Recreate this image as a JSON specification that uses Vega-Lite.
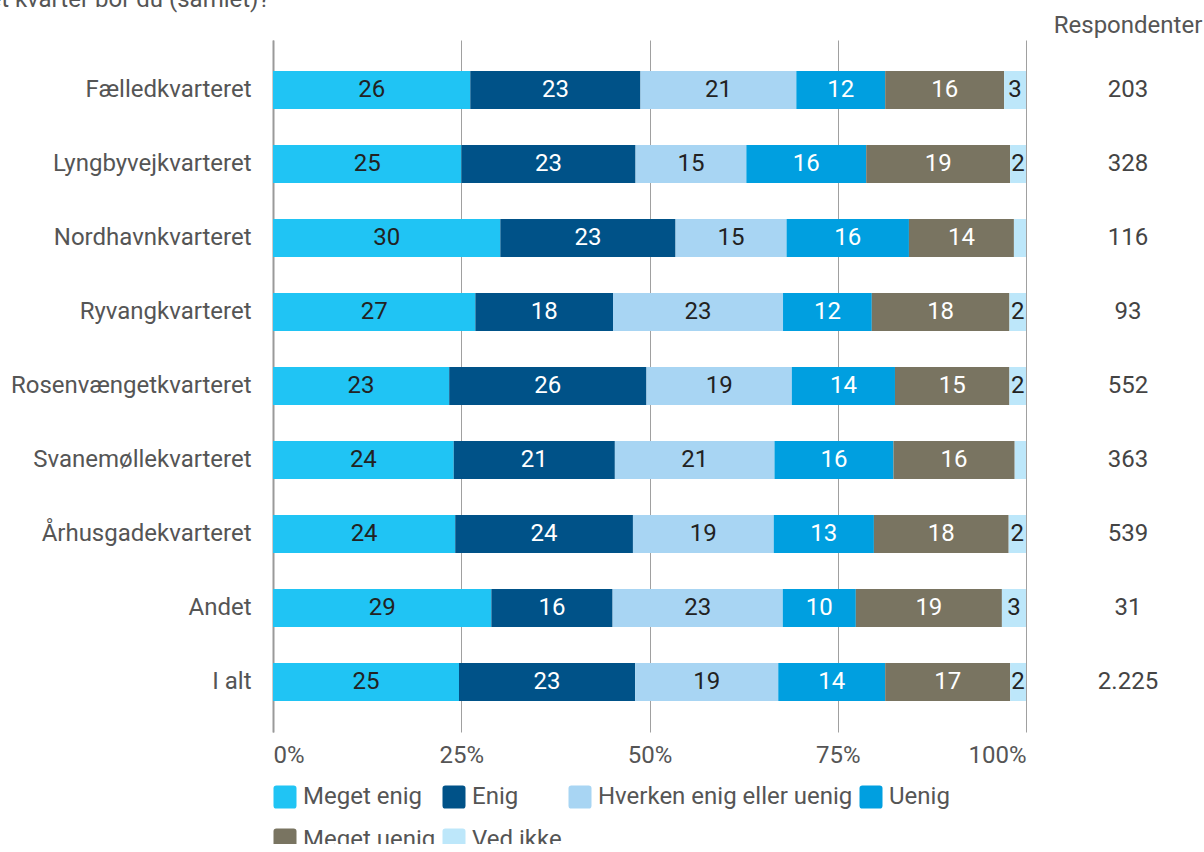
{
  "$schema": "https://vega.github.io/schema/vega-lite/v6.json",
  "padding": {"left": -73, "top": -12, "right": 0, "bottom": -8},
  "autosize": {"type": "pad"},
  "background": "white",
  "config": {
    "font": "Roboto",
    "view": {"stroke": null},
    "legend": {"gridAlign": "none"},
    "locale": {"number": {"decimal": ",", "thousands": ".", "grouping": [3], "currency": ["", " kr."]}}
  },
  "spacing": 25,
  "datasets": {
    "svar": [
      {"kvarter": "Fælledkvarteret", "svar": "Meget enig", "value": 26.2},
      {"kvarter": "Fælledkvarteret", "svar": "Enig", "value": 22.6},
      {"kvarter": "Fælledkvarteret", "svar": "Hverken enig eller uenig", "value": 20.7},
      {"kvarter": "Fælledkvarteret", "svar": "Uenig", "value": 11.8},
      {"kvarter": "Fælledkvarteret", "svar": "Meget uenig", "value": 15.8},
      {"kvarter": "Fælledkvarteret", "svar": "Ved ikke", "value": 2.9},
      {"kvarter": "Lyngbyvejkvarteret", "svar": "Meget enig", "value": 25.0},
      {"kvarter": "Lyngbyvejkvarteret", "svar": "Enig", "value": 23.1},
      {"kvarter": "Lyngbyvejkvarteret", "svar": "Hverken enig eller uenig", "value": 14.7},
      {"kvarter": "Lyngbyvejkvarteret", "svar": "Uenig", "value": 15.9},
      {"kvarter": "Lyngbyvejkvarteret", "svar": "Meget uenig", "value": 19.1},
      {"kvarter": "Lyngbyvejkvarteret", "svar": "Ved ikke", "value": 2.1},
      {"kvarter": "Nordhavnkvarteret", "svar": "Meget enig", "value": 30.1},
      {"kvarter": "Nordhavnkvarteret", "svar": "Enig", "value": 23.2},
      {"kvarter": "Nordhavnkvarteret", "svar": "Hverken enig eller uenig", "value": 14.7},
      {"kvarter": "Nordhavnkvarteret", "svar": "Uenig", "value": 16.2},
      {"kvarter": "Nordhavnkvarteret", "svar": "Meget uenig", "value": 13.9},
      {"kvarter": "Nordhavnkvarteret", "svar": "Ved ikke", "value": 1.6},
      {"kvarter": "Ryvangkvarteret", "svar": "Meget enig", "value": 26.9},
      {"kvarter": "Ryvangkvarteret", "svar": "Enig", "value": 18.3},
      {"kvarter": "Ryvangkvarteret", "svar": "Hverken enig eller uenig", "value": 22.6},
      {"kvarter": "Ryvangkvarteret", "svar": "Uenig", "value": 11.8},
      {"kvarter": "Ryvangkvarteret", "svar": "Meget uenig", "value": 18.3},
      {"kvarter": "Ryvangkvarteret", "svar": "Ved ikke", "value": 2.2},
      {"kvarter": "Rosenvængetkvarteret", "svar": "Meget enig", "value": 23.4},
      {"kvarter": "Rosenvængetkvarteret", "svar": "Enig", "value": 26.2},
      {"kvarter": "Rosenvængetkvarteret", "svar": "Hverken enig eller uenig", "value": 19.3},
      {"kvarter": "Rosenvængetkvarteret", "svar": "Uenig", "value": 13.7},
      {"kvarter": "Rosenvængetkvarteret", "svar": "Meget uenig", "value": 15.2},
      {"kvarter": "Rosenvængetkvarteret", "svar": "Ved ikke", "value": 2.2},
      {"kvarter": "Svanemøllekvarteret", "svar": "Meget enig", "value": 24.0},
      {"kvarter": "Svanemøllekvarteret", "svar": "Enig", "value": 21.4},
      {"kvarter": "Svanemøllekvarteret", "svar": "Hverken enig eller uenig", "value": 21.2},
      {"kvarter": "Svanemøllekvarteret", "svar": "Uenig", "value": 15.8},
      {"kvarter": "Svanemøllekvarteret", "svar": "Meget uenig", "value": 16.1},
      {"kvarter": "Svanemøllekvarteret", "svar": "Ved ikke", "value": 1.5},
      {"kvarter": "Århusgadekvarteret", "svar": "Meget enig", "value": 24.2},
      {"kvarter": "Århusgadekvarteret", "svar": "Enig", "value": 23.6},
      {"kvarter": "Århusgadekvarteret", "svar": "Hverken enig eller uenig", "value": 18.7},
      {"kvarter": "Århusgadekvarteret", "svar": "Uenig", "value": 13.3},
      {"kvarter": "Århusgadekvarteret", "svar": "Meget uenig", "value": 17.9},
      {"kvarter": "Århusgadekvarteret", "svar": "Ved ikke", "value": 2.3},
      {"kvarter": "Andet", "svar": "Meget enig", "value": 29.0},
      {"kvarter": "Andet", "svar": "Enig", "value": 16.1},
      {"kvarter": "Andet", "svar": "Hverken enig eller uenig", "value": 22.6},
      {"kvarter": "Andet", "svar": "Uenig", "value": 9.7},
      {"kvarter": "Andet", "svar": "Meget uenig", "value": 19.4},
      {"kvarter": "Andet", "svar": "Ved ikke", "value": 3.2},
      {"kvarter": "I alt", "svar": "Meget enig", "value": 24.7},
      {"kvarter": "I alt", "svar": "Enig", "value": 23.4},
      {"kvarter": "I alt", "svar": "Hverken enig eller uenig", "value": 19.0},
      {"kvarter": "I alt", "svar": "Uenig", "value": 14.2},
      {"kvarter": "I alt", "svar": "Meget uenig", "value": 16.6},
      {"kvarter": "I alt", "svar": "Ved ikke", "value": 2.1}
    ],
    "resp": [
      {"kvarter": "Fælledkvarteret", "n": 203},
      {"kvarter": "Lyngbyvejkvarteret", "n": 328},
      {"kvarter": "Nordhavnkvarteret", "n": 116},
      {"kvarter": "Ryvangkvarteret", "n": 93},
      {"kvarter": "Rosenvængetkvarteret", "n": 552},
      {"kvarter": "Svanemøllekvarteret", "n": 363},
      {"kvarter": "Århusgadekvarteret", "n": 539},
      {"kvarter": "Andet", "n": 31},
      {"kvarter": "I alt", "n": 2225}
    ]
  },
  "hconcat": [
    {
      "width": 753,
      "height": 692,
      "title": {"text": "I hvilket kvarter bor du (samlet)?", "anchor": "start", "frame": "bounds", "dx": -83, "offset": 28, "fontSize": 24, "fontWeight": "normal", "color": "#555555", "lineHeight": 26},
      "data": {"name": "svar"},
      "transform": [
        {"calculate": "indexof(['Meget enig','Enig','Hverken enig eller uenig','Uenig','Meget uenig','Ved ikke'], datum.svar)", "as": "rank"}
      ],
      "encoding": {
        "y": {
          "field": "kvarter", "type": "nominal", "sort": null,
          "scale": {"paddingInner": 0.486, "paddingOuter": 0.419},
          "axis": {"title": null, "labelFontSize": 24, "labelColor": "#555555", "labelPadding": 22, "ticks": false, "domain": true, "domainColor": "#9a9a9a", "domainWidth": 2, "labelLimit": 400}
        }
      },
      "layer": [
        {
          "mark": {"type": "bar"},
          "encoding": {
            "x": {
              "field": "value", "type": "quantitative", "stack": "normalize",
              "scale": {"domain": [0, 1], "nice": false},
              "axis": {"title": null, "format": ".0%", "values": [0, 0.25, 0.5, 0.75, 1], "grid": true, "gridColor": "#a0a0a0", "gridWidth": 1, "domain": false, "ticks": false, "labelFlush": true, "labelPadding": 11, "labelFontSize": 24, "labelColor": "#555555"}
            },
            "color": {
              "field": "svar", "type": "nominal",
              "scale": {
                "domain": ["Meget enig", "Enig", "Hverken enig eller uenig", "Uenig", "Meget uenig", "Ved ikke"],
                "range": ["#20c4f4", "#005288", "#a8d5f3", "#009fe0", "#797461", "#bde7fa"]
              },
              "legend": {
                "title": null, "orient": "bottom", "direction": "horizontal", "columns": 4, "gridAlign": "none",
                "labelFontSize": 24, "labelColor": "#555555", "labelLimit": 400, "labelOffset": 6,
                "symbolType": "M-1,-0.75Q-1,-1,-0.75,-1L0.75,-1Q1,-1,1,-0.75L1,0.75Q1,1,0.75,1L-0.75,1Q-1,1,-1,0.75Z",
                "symbolSize": 529, "symbolStrokeWidth": 0, "symbolOpacity": 1,
                "columnPadding": 6, "rowPadding": 19, "offset": 18
              }
            },
            "order": {"field": "rank", "type": "quantitative"}
          }
        },
        {
          "mark": {"type": "text", "fontSize": 24, "baseline": "middle", "align": "center"},
          "encoding": {
            "x": {"field": "value", "type": "quantitative", "stack": "normalize", "bandPosition": 0.5},
            "text": {"condition": {"test": "datum.value < 1.9", "value": ""}, "field": "value", "type": "quantitative", "format": ".0f"},
            "color": {"condition": {"test": "datum.svar === 'Enig' || datum.svar === 'Uenig' || datum.svar === 'Meget uenig'", "value": "#ffffff"}, "value": "#222222"},
            "order": {"field": "rank", "type": "quantitative"}
          }
        }
      ]
    },
    {
      "width": 154,
      "height": 692,
      "title": {"text": ["", "Respondenter"], "anchor": "middle", "offset": 2, "fontSize": 24, "fontWeight": "normal", "color": "#555555", "lineHeight": 26},
      "data": {"name": "resp"},
      "mark": {"type": "text", "fontSize": 24, "color": "#444444", "baseline": "middle"},
      "encoding": {
        "y": {"field": "kvarter", "type": "nominal", "sort": null, "axis": null, "scale": {"padding": 0.676}},
        "text": {"field": "n", "type": "quantitative", "format": ",d"}
      }
    }
  ]
}
